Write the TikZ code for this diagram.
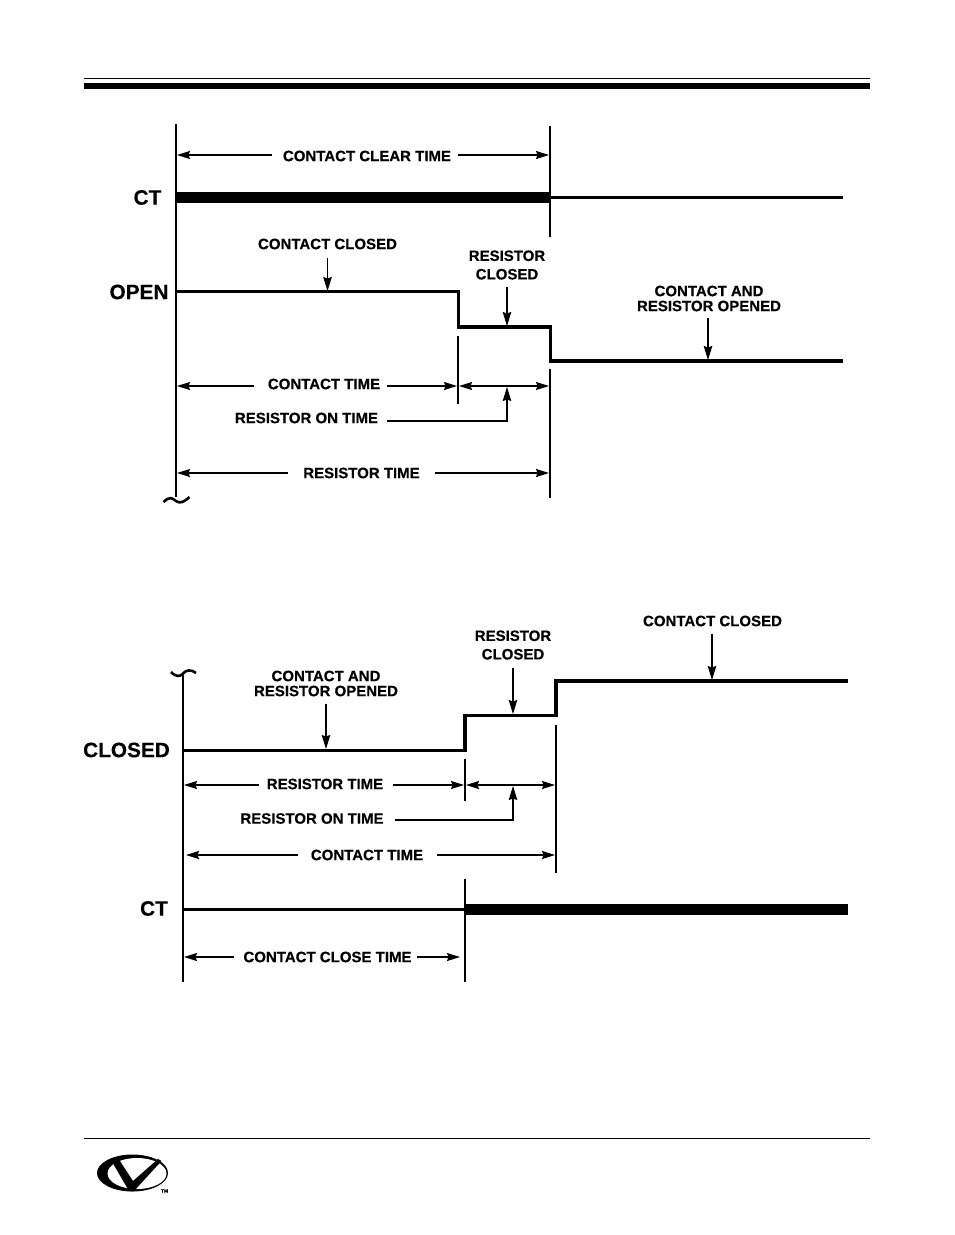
\documentclass[tikz,border=0pt]{standalone}
\usepackage{fontspec}
\setmainfont{Liberation Sans}[BoldFeatures={FakeBold=0.35}]
\usetikzlibrary{arrows.meta}

\begin{document}
\begin{tikzpicture}[x=1pt,y=-1pt,
  note/.style={font=\fontsize{15}{15}\selectfont\bfseries, align=center, inner sep=0pt},
  biglabel/.style={font=\fontsize{20.8}{22}\selectfont\bfseries, inner sep=0pt},
  dimline/.style={-{Stealth[length=13pt,width=8pt,inset=1.5pt]}, line width=1.2pt},
  twoway/.style={{Stealth[length=13pt,width=8pt,inset=1.5pt]}-{Stealth[length=13pt,width=8pt,inset=1.5pt]}, line width=1.2pt},
  pointer/.style={-{Stealth[length=14pt,width=8.5pt,inset=1.5pt]}, line width=1.2pt},
  level/.style={line width=3.3pt, miter limit=10},
  heavy/.style={line width=11.5pt},
  tick/.style={line width=2.2pt}]
\useasboundingbox (0,0) rectangle (954,1235);

% Page rules
\draw[line width=1pt] (84,78.5) -- (870,78.5);
\draw[line width=6.5pt] (84,86) -- (870,86);
\draw[line width=1pt] (84,1138) -- (870,1138);

% Logo
\fill (132.5,1173) ellipse[x radius=35.5, y radius=18.5];
\fill[white] (137,1173.5) ellipse[x radius=29.5, y radius=15.5];
\fill (111,1160) -- (118,1158) -- (133,1181) -- (158,1159) -- (161.5,1161) -- (134,1191) -- (129,1191) -- cycle;
\node[font=\fontsize{5}{5}\selectfont\bfseries, inner sep=0pt] (tm) at (164.5,1191) {TM};

% Opening chart: axis and ticks
\draw[tick] (176,124) -- (176,497);
\draw[tick, line width=2.6pt] (163.5,502) .. controls (170,496) and (172,498) .. (176,501) .. controls (180,504) and (184,502) .. (189.5,497);
\draw[tick] (550,126) -- (550,237);
\draw[tick] (458,336) -- (458,404);
\draw[tick] (550,369) -- (550,498);

% Opening chart: traces
\draw[heavy] (176,197.5) -- (550,197.5);
\draw[level] (550,197.5) -- (843,197.5);
\draw[level] (176,291.5) -- (458.5,291.5) -- (458.5,327) -- (550.5,327) -- (550.5,361) -- (843,361);

% Opening chart: labels
\node[biglabel] (ctopen) at (147.5,197.5) {CT};
\node[biglabel] (openlabel) at (139,292) {OPEN};
\node[note] (clearlabel) at (367,156) {CONTACT CLEAR TIME};
\node[note] (closedlabel) at (327.5,244) {CONTACT CLOSED};
\node[note] (resclosed) at (507,265) {RESISTOR\\[3.5pt]CLOSED};
\node[note] (bothopened) at (709,298.5) {CONTACT AND\\RESISTOR OPENED};
\node[note] (contacttime) at (324,384) {CONTACT TIME};
\node[note] (resontime) at (306.5,418) {RESISTOR ON TIME};
\node[note] (restime) at (361.5,473) {RESISTOR TIME};

% Opening chart: arrow ends
\coordinate (clearL) at (177,155);
\coordinate (clearR) at (549,155);
\coordinate (closedT) at (327.5,291);
\coordinate (resT) at (507,326);
\coordinate (bothT) at (708,360);
\coordinate (timeL) at (177,386);
\coordinate (timeR) at (457,386);
\coordinate (onL) at (459,386);
\coordinate (onR) at (549,386);
\coordinate (onT) at (507,387);
\coordinate (restimeL) at (177,473);
\coordinate (restimeR) at (549,473);

% Opening chart: arrows
\draw[dimline, shorten <=11pt] (clearlabel.west |- clearL) -- (clearL);
\draw[dimline, shorten <=7pt] (clearlabel.east |- clearR) -- (clearR);
\draw[pointer] (closedlabel.south -| closedT) ++(0,8) -- (closedT);
\draw[pointer] (resclosed.south -| resT) ++(0,7) -- (resT);
\draw[pointer] (bothopened.south -| bothT) ++(0,6) -- (bothT);
\draw[dimline, shorten <=14pt] (contacttime.west |- timeL) -- (timeL);
\draw[dimline, shorten <=7pt] (contacttime.east |- timeR) -- (timeR);
\draw[twoway] (onL) -- (onR);
\draw[pointer] (resontime.east |- 0,421) ++(9,0) -| (onT);
\draw[dimline, shorten <=15pt] (restime.west |- restimeL) -- (restimeL);
\draw[dimline, shorten <=15pt] (restime.east |- restimeR) -- (restimeR);

% Closing chart: axis and ticks
\draw[tick] (183,674) -- (183,982);
\draw[tick, line width=2.6pt] (171,672) .. controls (176,677) and (180,677) .. (183,673.5) .. controls (186,670) and (191,669) .. (196,673);
\draw[tick] (465,759) -- (465,801);
\draw[tick] (556,725) -- (556,873);
\draw[tick] (465,879) -- (465,982);

% Closing chart: traces
\draw[level] (183,750.5) -- (465,750.5) -- (465,715.5) -- (556,715.5) -- (556,681) -- (848,681);
\draw[level] (183,909.5) -- (465,909.5);
\draw[heavy] (465,909.5) -- (848,909.5);

% Closing chart: labels
\node[biglabel] (closedbig) at (126.5,750) {CLOSED};
\node[biglabel] (ctclose) at (154,908.5) {CT};
\node[note] (bothopenedb) at (326,683.5) {CONTACT AND\\RESISTOR OPENED};
\node[note] (resclosedb) at (513,645) {RESISTOR\\[3.5pt]CLOSED};
\node[note] (closedlabelb) at (712.5,621) {CONTACT CLOSED};
\node[note] (restimeb) at (325,784) {RESISTOR TIME};
\node[note] (resontimeb) at (312,818.5) {RESISTOR ON TIME};
\node[note] (contacttimeb) at (367,855) {CONTACT TIME};
\node[note] (closetime) at (327.5,957) {CONTACT CLOSE TIME};

% Closing chart: arrow ends
\coordinate (bothbT) at (326,749);
\coordinate (resbT) at (513,714);
\coordinate (closedbT) at (712,680);
\coordinate (rtL) at (184,785);
\coordinate (rtR) at (464,785);
\coordinate (onbL) at (466,785);
\coordinate (onbR) at (555,785);
\coordinate (onbT) at (513,786);
\coordinate (ctL) at (186,855);
\coordinate (ctR) at (555,855);
\coordinate (cctL) at (184,957);
\coordinate (cctR) at (460,957);

% Closing chart: arrows
\draw[pointer] (bothopenedb.south -| bothbT) ++(0,7) -- (bothbT);
\draw[pointer] (resclosedb.south -| resbT) ++(0,8) -- (resbT);
\draw[pointer] (closedlabelb.south -| closedbT) ++(0,7) -- (closedbT);
\draw[dimline, shorten <=8pt] (restimeb.west |- rtL) -- (rtL);
\draw[dimline, shorten <=10pt] (restimeb.east |- rtR) -- (rtR);
\draw[twoway] (onbL) -- (onbR);
\draw[pointer] (resontimeb.east |- 0,820) ++(11,0) -| (onbT);
\draw[dimline, shorten <=13pt] (contacttimeb.west |- ctL) -- (ctL);
\draw[dimline, shorten <=14pt] (contacttimeb.east |- ctR) -- (ctR);
\draw[dimline, shorten <=9pt] (closetime.west |- cctL) -- (cctL);
\draw[dimline, shorten <=5pt] (closetime.east |- cctR) -- (cctR);

\end{tikzpicture}
\end{document}
